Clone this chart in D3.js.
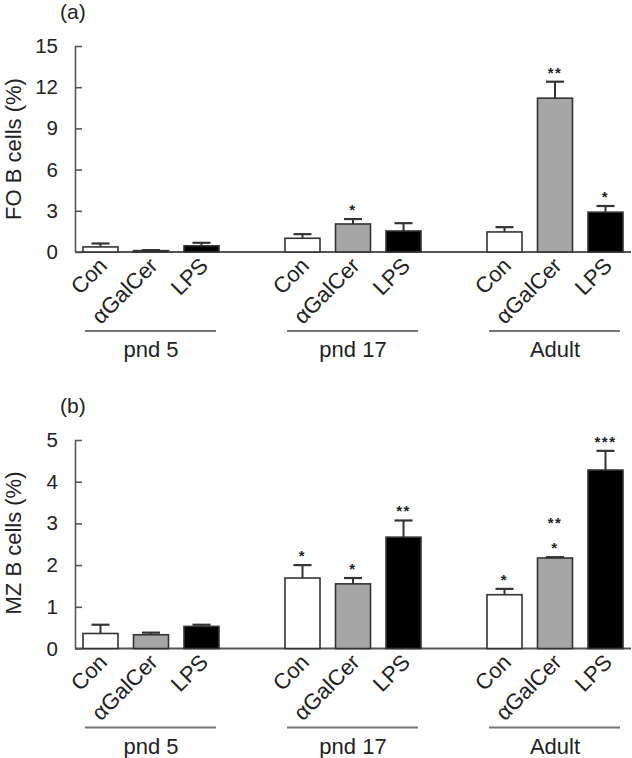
<!DOCTYPE html>
<html>
<head>
<meta charset="utf-8">
<script src="https://cdn.jsdelivr.net/npm/d3@7/dist/d3.min.js"></script>
<style>
  html, body { margin: 0; padding: 0; background: #fff; }
  svg { display: block; font-family: "Liberation Sans", Arial, Helvetica, sans-serif; }
</style>
</head>
<body>
<svg id="chart" width="632" height="758"></svg>
<script>
// ---- data ----
const groups = ["pnd 5", "pnd 17", "Adult"];
const treatments = ["Con", "\u03b1GalCer", "LPS"];
const fills = ["#ffffff", "#a6a6a6", "#000000"];

// Panel (a): FO B cells (%)
const foMean = [[0.37, 0.10, 0.45], [1.00, 2.04, 1.53], [1.46, 11.2, 2.90]];
const foErr  = [[0.25, 0.04, 0.22], [0.30, 0.36, 0.57], [0.35, 1.20, 0.45]];
const foStars = [[[], [], []], [[], ["*"], []], [[], ["**"], ["*"]]];
const foTicks = [0, 3, 6, 9, 12, 15];

// Panel (b): MZ B cells (%)
const mzMean = [[0.36, 0.33, 0.53], [1.69, 1.55, 2.67], [1.29, 2.17, 4.28]];
const mzErr  = [[0.21, 0.05, 0.04], [0.31, 0.14, 0.40], [0.14, 0.02, 0.46]];
const mzStars = [[[], [], []], [["*"], ["*"], ["**"]], [["*"], ["*", "**"], ["***"]]];
const mzTicks = [0, 1, 2, 3, 4, 5];

// ---- layout ----
const svg = d3.select("#chart");
const xGroup = d3.scalePoint().domain(groups).range([151, 555]);
const xInner = d3.scalePoint().domain(treatments).range([-50.5, 50.5]);
const barW = 35;
const axisX = 75;
const rightEdge = 631;

function panel(cfg) {
  const y = d3.scaleLinear().domain([0, cfg.max]).range([cfg.y0, cfg.yTop]);
  const g = svg.append("g");

  // panel letter
  g.append("text").attr("x", 60).attr("y", cfg.letterY)
    .attr("font-size", 21).attr("fill", "#222").text(cfg.letter);

  // y axis title
  g.append("text")
    .attr("transform", `translate(21,${cfg.titleY}) rotate(-90)`)
    .attr("text-anchor", "middle").attr("font-size", 22).attr("fill", "#222")
    .text(cfg.title);

  // y axis
  const ax = g.append("g").attr("transform", `translate(${axisX},0)`)
    .call(d3.axisLeft(y).tickValues(cfg.ticks).tickFormat(d3.format("d"))
      .tickSizeInner(-7).tickSizeOuter(0).tickPadding(17));
  ax.selectAll("path, line").attr("stroke", "#555").attr("stroke-width", 1.6);
  ax.selectAll("text").attr("font-size", 20.5).attr("fill", "#222")
    .attr("font-family", "'Liberation Sans', Arial, sans-serif");

  // baseline
  g.append("line").attr("x1", axisX).attr("x2", rightEdge)
    .attr("y1", y(0)).attr("y2", y(0))
    .attr("stroke", "#555").attr("stroke-width", 2);

  // bars
  groups.forEach((grp, gi) => {
    treatments.forEach((tr, ti) => {
      const cx = xGroup(grp) + xInner(tr);
      const m = cfg.mean[gi][ti], e = cfg.err[gi][ti];
      // error bar
      g.append("line").attr("x1", cx).attr("x2", cx)
        .attr("y1", y(m)).attr("y2", y(m + e))
        .attr("stroke", "#333").attr("stroke-width", 2);
      g.append("line").attr("x1", cx - 9).attr("x2", cx + 9)
        .attr("y1", y(m + e)).attr("y2", y(m + e))
        .attr("stroke", "#333").attr("stroke-width", 2.2);
      // bar
      g.append("rect").attr("x", cx - barW / 2).attr("width", barW)
        .attr("y", y(m)).attr("height", y(0) - y(m))
        .attr("fill", fills[ti]).attr("stroke", "#333").attr("stroke-width", 1.6);
      // stars
      cfg.stars[gi][ti].forEach((s, si) => {
        g.append("text").attr("x", cx).attr("y", y(m + e) - 4 - si * 25)
          .attr("text-anchor", "middle").attr("font-size", 15).attr("font-weight", "bold")
          .attr("letter-spacing", 1.5).attr("fill", "#222").text(s);
      });
      // treatment label
      g.append("text")
        .attr("transform", `translate(${cx + 8},${y(0) + 15}) rotate(-45)`)
        .attr("text-anchor", "end").attr("font-size", 22).attr("fill", "#222")
        .text(tr);
    });
    // group underline and label
    const gc = xGroup(grp);
    g.append("line").attr("x1", gc - 66).attr("x2", gc + 65)
      .attr("y1", y(0) + 79).attr("y2", y(0) + 79)
      .attr("stroke", "#777").attr("stroke-width", 2);
    g.append("text").attr("x", gc).attr("y", y(0) + 105)
      .attr("text-anchor", "middle").attr("font-size", 22).attr("fill", "#222")
      .text(grp);
  });
}

panel({ letter: "(a)", letterY: 19, title: "FO B cells (%)", titleY: 149,
        max: 15, y0: 252, yTop: 46, ticks: foTicks,
        mean: foMean, err: foErr, stars: foStars });
panel({ letter: "(b)", letterY: 413, title: "MZ B cells (%)", titleY: 543,
        max: 5, y0: 648.5, yTop: 440, ticks: mzTicks,
        mean: mzMean, err: mzErr, stars: mzStars });
</script>
</body>
</html>
